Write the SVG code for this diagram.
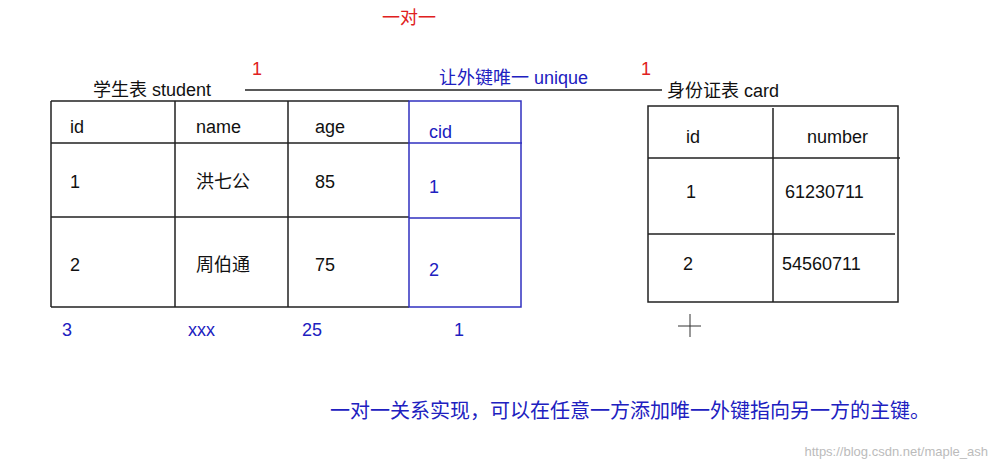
<svg xmlns="http://www.w3.org/2000/svg" width="997" height="470" viewBox="0 0 997 470">
<style>
text{font-family:"Liberation Sans","Noto Sans CJK SC",sans-serif;font-size:18px;fill:#111}
.b{fill:#2020c0}.r{fill:#e02020}
.k{stroke:#222;stroke-width:1.5;fill:none}
.bl{stroke:#3030c0;stroke-width:1.5;fill:none}
</style>
<rect width="997" height="470" fill="#fff"/>
<text x="382" y="24" class="r">一对一</text>
<g id="connectors">
<line x1="245" y1="90" x2="662" y2="90" class="k"/>
<text x="252" y="75" class="r">1</text>
<text x="641" y="75" class="r">1</text>
<text x="439" y="84" class="b">让外键唯一 unique</text>
</g>
<g id="student">
<text x="93" y="96">学生表 student</text>
<path class="k" d="M51 101H409M51 143H409M51 217H409M51 307H409M51 101V307M175 101V307M288 101V307"/>
<path class="bl" d="M409 101H521V307H409ZM409 143H522M409 218H520"/>
<text x="70" y="133">id</text><text x="196" y="133">name</text><text x="315" y="133">age</text><text x="429" y="138" class="b">cid</text>
<text x="70" y="188">1</text><text x="196" y="188">洪七公</text><text x="315" y="188">85</text><text x="429" y="193" class="b">1</text>
<text x="70" y="271">2</text><text x="196" y="271">周伯通</text><text x="315" y="271">75</text><text x="429" y="276" class="b">2</text>
<text x="62" y="336" class="b">3</text><text x="188" y="336" class="b">xxx</text><text x="302" y="336" class="b">25</text><text x="454" y="336" class="b">1</text>
</g>
<g id="card">
<text x="667" y="97">身份证表  card</text>
<path class="k" d="M648 106H898V302H648ZM773 108V302M648 158H900M648 234H895"/>
<text x="686" y="143">id</text><text x="807" y="143">number</text>
<text x="686" y="198">1</text><text x="785" y="198">61230711</text>
<text x="683" y="270">2</text><text x="782" y="270">54560711</text>
</g>
<path d="M678 326H701M690 314V337" stroke="#333" stroke-width="1"/>
<text x="330" y="418" class="b" style="font-size:20px">一对一关系实现，可以在任意一方添加唯一外键指向另一方的主键。</text>
<text x="988" y="456" text-anchor="end" style="font-size:13px;fill:#bbb">https://blog.csdn.net/maple_ash</text>
</svg>
